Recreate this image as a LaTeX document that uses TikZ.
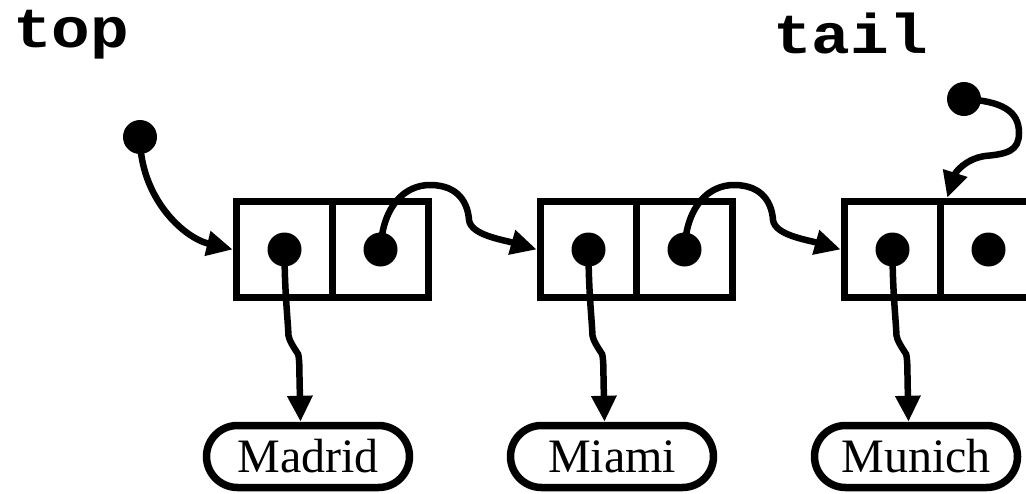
\documentclass[tikz,border=0pt]{standalone}
\usepackage{fontspec}
\setmainfont{Liberation Serif}
\newfontfamily\codefont{Liberation Mono}
\usetikzlibrary{arrows.meta,shapes.misc,calc}
\tikzset{
  cell/.style={draw, line width=7.5pt, minimum width=96pt, minimum height=96pt, inner sep=0pt},
  ref/.style={circle, fill, minimum size=34pt, inner sep=0pt},
  pointer/.style={line width=6.5pt, -{Triangle[length=26pt,width=24pt]}},
  value/.style={draw, rounded rectangle, line width=7.5pt, minimum width=203pt,
    minimum height=62pt, inner sep=0pt, font=\fontsize{48}{48}\selectfont},
  var/.style={font=\codefont\bfseries\fontsize{56}{56}\selectfont, inner sep=0pt,
    anchor=base west, xscale=1.15, transform shape}
}
\begin{document}
\begin{tikzpicture}[x=1pt,y=-1pt]
\useasboundingbox (0,0) rectangle (1026,493);
\clip (0,0) rectangle (1026,493);

% list variables
\node[var] (top) at (13,47) {top};
\node[var] (tail) at (773,53) {tail};

% list nodes: two cells each, plus the stored value
\foreach \i/\x/\city in {1/0/Madrid,2/304/Miami,3/608/Munich}{
  \node[cell] (ca\i) at (284.5+\x,249.5) {};
  \node[cell] (cb\i) at (380.5+\x,249.5) {};
  \node[ref] (da\i) at (ca\i.center) {};
  \node[ref] (db\i) at (cb\i.center) {};
  \node[value] (v\i) at (308+\x,456.5) {\city};
  \draw[pointer] (da\i.center) .. controls +(0,40) and +(-1,-20) .. ++(4,86)
    .. controls +(1,5) and +(-3,-5) .. ++(6,13)
    .. controls +(3,5) and +(0,-30) .. ++(5,30)
    -- ([xshift=-7.5pt]v\i.north);
}

% next pointers
\foreach \i in {1,2}{
  \pgfmathtruncatemacro\j{\i+1}
  \draw[pointer] (db\i.center) .. controls +(2,-44) and +(-25,0) .. ++(49.5,-64.5)
    .. controls +(30,0) and +(-1,-15) .. ++(39,35)
    .. controls +(2,15) and +(-35,-10) .. (ca\j.west);
}

% head and tail pointers
\node[ref] (ptop) at (140,137) {};
\draw[pointer] (ptop.center) .. controls +(0,60) and +(-50,-12) .. (ca1.west);

\node[ref] (ptail) at (964,99) {};
\draw[pointer] (ptail.center) .. controls +(38,2) and +(0,-22) .. ++(55,34)
  .. controls +(0,18) and +(22,-2) .. ++(-34,23)
  .. controls +(-20,3) and +(8,-25) .. ([xshift=3pt]ca3.north east);
\end{tikzpicture}
\end{document}
